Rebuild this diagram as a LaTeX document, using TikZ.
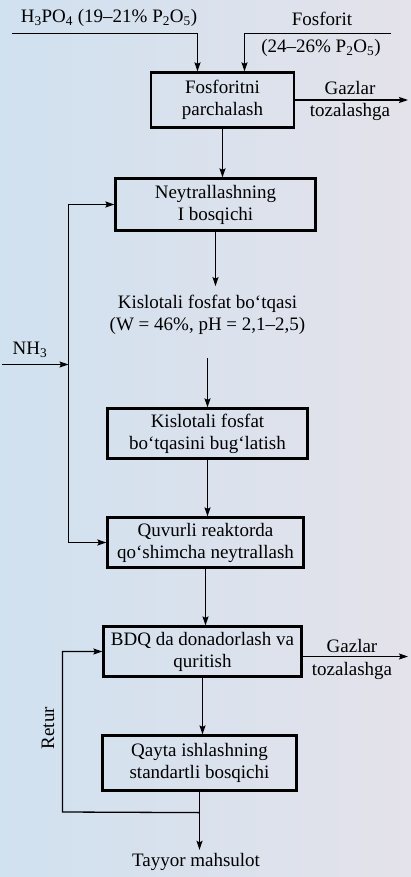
\documentclass[tikz,border=0pt]{standalone}
\usepackage{fontspec}
\setmainfont{Liberation Serif}
\usetikzlibrary{calc,arrows.meta}
\definecolor{bgl}{RGB}{208,225,240}
\definecolor{bgr}{RGB}{228,226,234}
\tikzset{
  box/.style={draw=black, line width=2.2pt, align=center, inner sep=0pt},
  arr/.style={line width=1.3pt, -{Stealth[length=9pt,width=6pt,inset=1.5pt]}},
  ln/.style={line width=1.3pt},
  lbl/.style={align=center},
}
\begin{document}
\begin{tikzpicture}[x=1pt,y=-1pt,
  every node/.append style={font=\fontsize{19}{22}\selectfont}]
\useasboundingbox (0,0) rectangle (411,877);
\shade[left color=bgl, right color=bgr] (0,0) rectangle (411,877);

% boxes
\node[box, minimum width=143pt, minimum height=55pt] (b1) at (222.5,100) {Fosforitni\\parchalash};
\node[box, minimum width=200pt, minimum height=52pt] (b2) at (215.5,204.5) {Neytrallashning\\I bosqichi};
\node[lbl, inner xsep=2pt, inner ysep=9pt] (kb) at (207.5,315) {Kislotali fosfat bo‘tqasi\\(W = 46\%, pH = 2,1–2,5)};
\node[box, minimum width=200pt, minimum height=50pt] (b3) at (207.5,433.5) {Kislotali fosfat\\bo‘tqasini bug‘latish};
\node[box, minimum width=196pt, minimum height=50pt] (b4) at (205.5,542.5) {Quvurli reaktorda\\qo‘shimcha neytrallash};
\node[box, minimum width=198pt, minimum height=50pt] (b5) at (202.5,651.5) {BDQ da donadorlash va\\quritish};
\node[box, minimum width=194pt, minimum height=55pt] (b6) at (199.5,763) {Qayta ishlashning\\standartli bosqichi};
\node[lbl] (tp) at (196,862) {Tayyor mahsulot};

% labels
\node[lbl] (hl) at (109,18) {H\textsubscript{3}PO\textsubscript{4} (19–21\% P\textsubscript{2}O\textsubscript{5})};
\node[lbl] (fl) at (322,19) {Fosforit};
\node[lbl] (fl2) at (321,48) {(24–26\% P\textsubscript{2}O\textsubscript{5})};
\node[lbl] (g1a) at (350,88) {Gazlar};
\node[lbl] (g1b) at (350,112) {tozalashga};
\node[lbl] (g2a) at (352,646) {Gazlar};
\node[lbl] (g2b) at (352,671) {tozalashga};
\node[lbl] (nh) at (30,350) {NH\textsubscript{3}};
\node[lbl, rotate=90] (ret) at (48,728) {Retur};

% coordinates of free ends
\coordinate (hin) at (12,33.5);
\coordinate (fin) at (391,33.5);
\coordinate (gout) at (408,0);
\coordinate (nin) at (2,364.5);
\coordinate (nj) at (68.5,364.5);
\coordinate (rj) at ($(b6.south)+(0,21)$);
\coordinate (rc) at (62.5,812);

% feeds
\draw[arr] (hin) -| ($(b1.north)+(-25,0)$);
\draw[arr] (fin) -| ($(b1.north)+(22,0)$);

% main line
\draw[arr] (b1.south) -- (b1.south |- b2.north);
\draw[arr] (b2.south) -- (b2.south |- kb.north);
\draw[arr] ([yshift=-14pt]kb.south) -- (kb.south |- b3.north);
\draw[arr] (b3.south) -- (b3.south |- b4.north);
\draw[arr] (b4.south) -- (b4.south |- b5.north);
\draw[arr] (b5.south) -- (b5.south |- b6.north);
\draw[arr] (b6.south) -- (b6.south |- tp.north);

% gas outputs
\draw[arr] (b1.east) -- (b1.east -| gout);
\draw[arr] ([yshift=-5pt]b5.east) -- ([yshift=-5pt]b5.east -| gout);

% ammonia
\draw[arr] (nin) -- (nj);
\draw[arr] (nj) |- (b2.west);
\draw[arr] (nj) |- (b4.west);

% return
\draw[arr] (rj) -- (rc) |- (b5.west);
\end{tikzpicture}
\end{document}
